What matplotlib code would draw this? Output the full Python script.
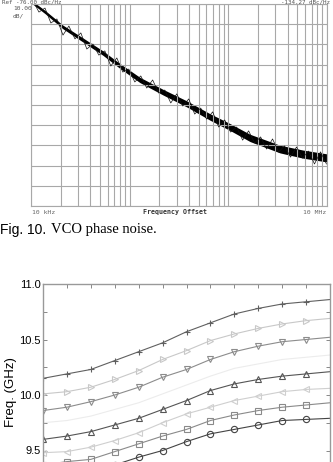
import matplotlib.pyplot as plt
from matplotlib.ticker import LogLocator, MultipleLocator, NullFormatter

W, H = 333, 462

# ---- phase noise screenshot data (offset in kHz, level in dBc/Hz)
pn_freq = [10.5, 13.9, 21.1, 33.6, 53.6, 79.8, 127, 217, 381, 651, 1040, 1660, 3330, 5700, 10000]
pn_upper = [-58.8, -63.2, -70.5, -76.8, -83.2, -89.5, -96.3, -102.2, -108.0, -114.3, -119.2, -124.5, -129.9, -132.3, -134.2]
pn_lower = [-60.2, -64.8, -72.3, -78.8, -85.4, -91.9, -98.9, -105.0, -111.0, -117.5, -122.6, -128.1, -133.7, -136.3, -138.2]

trace_freq = [10.47, 12.04, 13.85, 15.9, 18.3, 21.1, 24.2, 27.9, 32.0, 36.8,
              42.4, 48.7, 56.0, 64.4, 74.1, 85.2, 98.0, 112.7, 129.6, 149,
              171, 197, 227, 261, 300, 345, 397, 456, 525, 603,
              694, 798, 918, 1055, 1214, 1396, 1605, 1846, 2123, 2441,
              2807, 3229, 3713, 4270, 4910, 5647, 6494, 7468, 8588, 9876]
trace_db = [-58.5, -64.0, -62.0, -69.4, -67.4, -75.4, -70.9, -77.3, -74.3, -82.3,
            -79.8, -85.3, -83.2, -90.7, -86.7, -93.7, -92.2, -98.6, -95.6, -101.6,
            -97.6, -104.1, -102.6, -109.0, -104.5, -110.5, -107.0, -114.5, -111.5, -117.0,
            -113.4, -120.9, -117.4, -123.4, -120.9, -127.4, -122.8, -128.8, -125.8, -131.8,
            -126.8, -133.3, -130.3, -135.8, -130.8, -136.3, -132.8, -139.2, -133.2, -139.2]

# ---- VCO tuning curves
vtune = [0, 1, 2, 3, 4, 5, 6, 7, 8, 9, 10, 11, 12]
f_plus = [10.15, 10.19, 10.23, 10.31, 10.39, 10.47, 10.57, 10.65, 10.73, 10.78, 10.82, 10.84, 10.86]
f_right = [10.01, 10.03, 10.07, 10.14, 10.22, 10.32, 10.40, 10.49, 10.55, 10.60, 10.64, 10.67, 10.69]
f_faint = [9.75, 9.77, 9.81, 9.87, 9.93, 10.01, 10.09, 10.17, 10.24, 10.28, 10.32, 10.34, 10.36]
f_down = [9.86, 9.89, 9.94, 10.00, 10.07, 10.16, 10.23, 10.32, 10.39, 10.44, 10.48, 10.50, 10.52]
f_up = [9.60, 9.63, 9.67, 9.73, 9.79, 9.87, 9.95, 10.04, 10.10, 10.14, 10.17, 10.19, 10.21]
f_left = [9.48, 9.49, 9.53, 9.59, 9.66, 9.75, 9.83, 9.89, 9.95, 9.99, 10.03, 10.05, 10.06]
f_square = [9.37, 9.40, 9.42, 9.49, 9.56, 9.63, 9.69, 9.77, 9.82, 9.86, 9.89, 9.91, 9.93]
f_circle = [9.27, 9.29, 9.32, 9.37, 9.44, 9.50, 9.58, 9.65, 9.69, 9.73, 9.77, 9.78, 9.79]

fig = plt.figure(figsize=(W / 100, H / 100), dpi=100)


def fx(px):
    return px / W


def fy(py):
    return 1 - py / H


# top: spectrum analyser screen
ax1 = fig.add_axes([fx(31), fy(206), (327 - 31) / W, (206 - 4) / H])
ax1.set_xscale('log')
ax1.set_xlim(10, 10000)
ax1.set_ylim(-160, -60)
ax1.xaxis.set_major_locator(LogLocator(base=10))
ax1.xaxis.set_minor_locator(LogLocator(base=10, subs=range(2, 10)))
ax1.xaxis.set_minor_formatter(NullFormatter())
ax1.set_yticks(range(-160, -59, 10))
ax1.grid(True, which='both', color='#a8a8a8', lw=0.8)
ax1.tick_params(which='both', length=0, labelbottom=False, labelleft=False)
for s in ax1.spines.values():
    s.set_color('#a8a8a8')
    s.set_linewidth(0.8)
ax1.fill_between(pn_freq, pn_lower, pn_upper, color='black', lw=0)
ax1.plot(trace_freq, trace_db, color='#111111', lw=0.5)

mono = 'DejaVu Sans Mono'
fig.text(fx(13), fy(8), '10.00', family=mono, fontsize=4.5, color='#555', va='center')
fig.text(fx(13), fy(16), 'dB/', family=mono, fontsize=4.5, color='#555', va='center')
fig.text(fx(2), fy(2.5), 'Ref -76.00 dBc/Hz', family=mono, fontsize=4.2, color='#555',
         va='center')
fig.text(fx(330), fy(2.5), '-134.27 dBc/Hz', family=mono, fontsize=4.2, color='#555',
         va='center', ha='right')
fig.text(fx(32), fy(212), '10 kHz', family=mono, fontsize=4.6, color='#666', va='center')
fig.text(fx(175), fy(212), 'Frequency Offset', family=mono, fontsize=4.8, weight='bold',
         color='#333', va='center', ha='center')
fig.text(fx(326), fy(212), '10 MHz', family=mono, fontsize=4.6, color='#666',
         va='center', ha='right')

fig.text(fx(0), fy(230), 'Fig. 10.', family='Liberation Sans', fontsize=10, va='center')
fig.text(fx(51), fy(230), 'VCO phase noise.', family='Liberation Serif', fontsize=10.5,
         va='center')

# bottom: tuning curves (cropped at the bottom)
ax2 = fig.add_axes([fx(43), fy(506), (330 - 43) / W, (506 - 284) / H])
ax2.set_xlim(0, 12)
ax2.set_ylim(9.0, 11.0)
ax2.xaxis.set_major_locator(MultipleLocator(1))
ax2.set_yticks([9.5, 10.0, 10.5, 11.0])
ax2.yaxis.set_minor_locator(MultipleLocator(0.25))
ax2.yaxis.set_major_formatter(plt.FormatStrFormatter('%.1f'))
ax2.tick_params(which='both', direction='in', top=True, right=True, length=3,
                width=0.7, color='#888', labelsize=8, pad=1.5, labelbottom=False)
for s in ax2.spines.values():
    s.set_color('#999')
    s.set_linewidth(1)
for t in ax2.get_yticklabels():
    t.set_family('Liberation Sans')

series = [
    (f_plus, '+', '#606060'),
    (f_right, '>', '#c8c8c8'),
    (f_faint, '', '#ececec'),
    (f_down, 'v', '#8c8c8c'),
    (f_up, '^', '#555555'),
    (f_left, '<', '#cfcfcf'),
    (f_square, 's', '#8a8a8a'),
    (f_circle, 'o', '#444444'),
]
for vals, m, c in series:
    ax2.plot(vtune, vals, color=c, lw=0.8, marker=m or None, ms=4.5, mfc='none',
             mec=c, mew=0.8, markevery=slice(0, 12))

ax2.set_ylabel('Freq. (GHz)', family='Liberation Sans', fontsize=9.5)
ax2.yaxis.label.set_position((0, (fy(392) - fy(506)) / ((506 - 284) / H)))
ax2.yaxis.labelpad = 2

fig.savefig('out.png', dpi=100)
